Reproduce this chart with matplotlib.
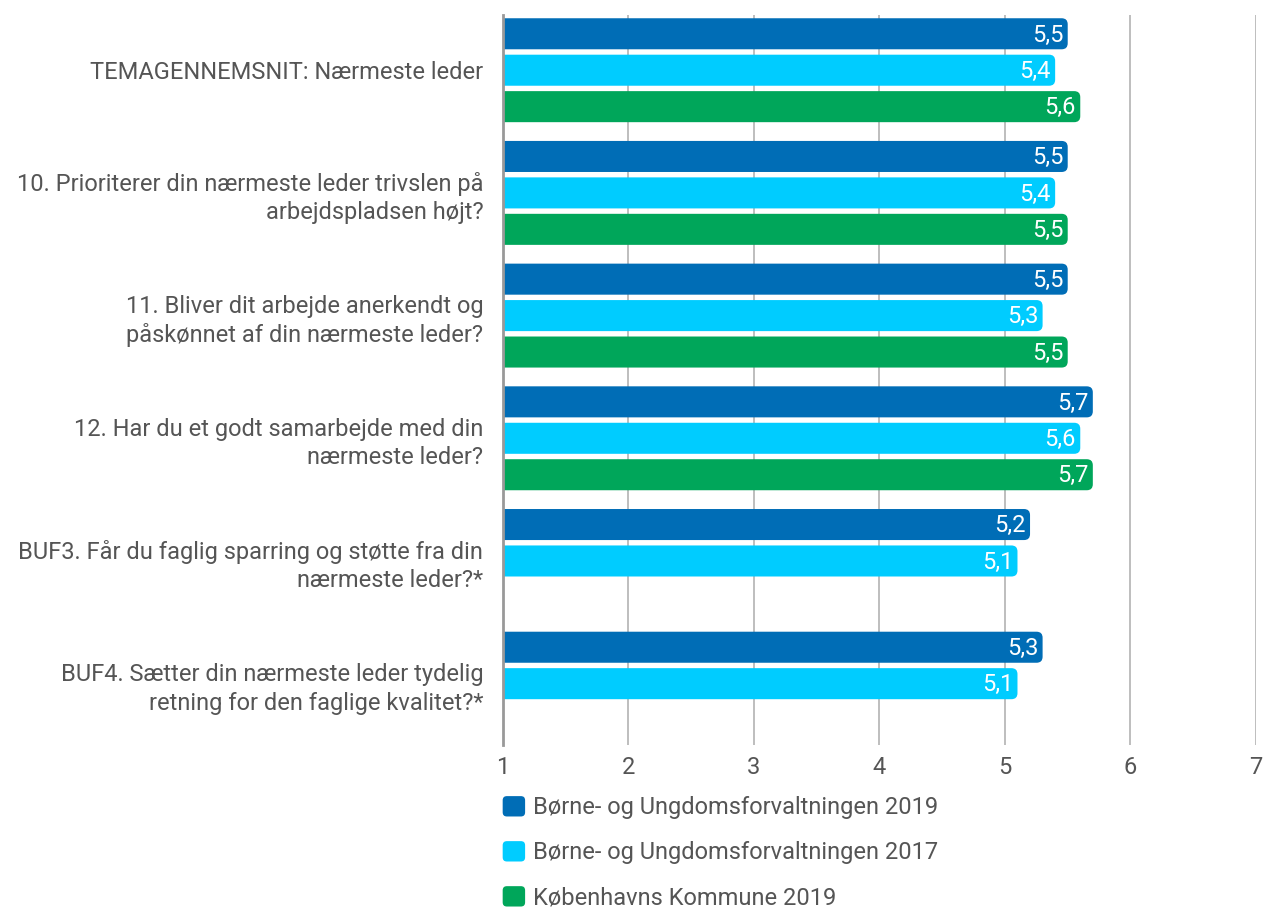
import matplotlib.pyplot as plt
import numpy as np
from matplotlib.patches import FancyBboxPatch, Patch
from matplotlib.legend_handler import HandlerPatch

plt.rcParams['font.family'] = ['Roboto', 'DejaVu Sans']

# Data
categories = [
    "TEMAGENNEMSNIT: Nærmeste leder",
    "10. Prioriterer din nærmeste leder trivslen på\narbejdspladsen højt?",
    "11. Bliver dit arbejde anerkendt og\npåskønnet af din nærmeste leder?",
    "12. Har du et godt samarbejde med din\nnærmeste leder?",
    "BUF3. Får du faglig sparring og støtte fra din\nnærmeste leder?*",
    "BUF4. Sætter din nærmeste leder tydelig\nretning for den faglige kvalitet?*",
]
series_names = [
    "Børne- og Ungdomsforvaltningen 2019",
    "Børne- og Ungdomsforvaltningen 2017",
    "Københavns Kommune 2019",
]
buf_2019 = [5.5, 5.5, 5.5, 5.7, 5.2, 5.3]
buf_2017 = [5.4, 5.4, 5.3, 5.6, 5.1, 5.1]
kk_2019 = [5.6, 5.5, 5.5, 5.7, None, None]
colors = ['#006db6', '#00ccff', '#00a65a']

series = [buf_2019, buf_2017, kk_2019]

fig = plt.figure(figsize=(12.63, 9.09), dpi=100)
ax = fig.add_axes([0.398, 0.1804, 0.5965, 0.8031])

x_min, x_max = 1, 7
ax.set_xlim(x_min, x_max)
ax.set_ylim(5.5, -0.45)

step = 0.297
bar_h = 0.253
# px per data unit, for round corners
aspect = (x_max - x_min) / 753 * 730 / 5.95

for s_idx, (vals, col) in enumerate(zip(series, colors)):
    for i, v in enumerate(vals):
        if v is None:
            continue
        yc = i + (s_idx - 1) * step
        start = x_min - 0.2
        patch = FancyBboxPatch((start, yc - bar_h / 2), v - start, bar_h,
                               boxstyle="round,pad=0,rounding_size=0.048",
                               mutation_aspect=1 / aspect,
                               facecolor=col, edgecolor='none', zorder=3)
        ax.add_patch(patch)
        ax.text(v - 0.035, yc + 0.01, f"{v:.1f}".replace('.', ','),
                ha='right', va='center', color='white', fontsize=17, zorder=4)

ax.set_yticks(range(len(categories)))
ax.set_yticklabels(categories, fontsize=17, color='#555555', linespacing=1.3)
ax.set_xticks(range(x_min, x_max + 1))
ax.set_xticklabels([str(t) for t in range(x_min, x_max + 1)], fontsize=17, color='#555555')
ax.tick_params(axis='both', length=0)
ax.tick_params(axis='y', pad=14)
ax.tick_params(axis='x', pad=8)

ax.grid(axis='x', color='#b3b3b3', linewidth=1.2, zorder=0)
for sp in ['top', 'right', 'bottom']:
    ax.spines[sp].set_visible(False)
ax.spines['left'].set_color('#999999')
ax.spines['left'].set_linewidth(2)
ax.spines['left'].set_zorder(5)


class RoundHandler(HandlerPatch):
    def create_artists(self, legend, orig_handle, xdescent, ydescent,
                       width, height, fontsize, trans):
        p = FancyBboxPatch((-xdescent, -ydescent), width, height,
                           boxstyle="round,pad=0,rounding_size=3",
                           facecolor=orig_handle.get_facecolor(),
                           edgecolor='none', transform=trans)
        return [p]


handles = [Patch(facecolor=c) for c in colors]
ax.legend(handles, series_names, loc='upper left', bbox_to_anchor=(0.0, -0.07),
          frameon=False, fontsize=17, labelcolor='#555555',
          handler_map={Patch: RoundHandler()}, handlelength=0.95, handleheight=0.95,
          handletextpad=0.35, labelspacing=0.92, borderaxespad=0, borderpad=0)

fig.savefig('out.png', dpi=100)
